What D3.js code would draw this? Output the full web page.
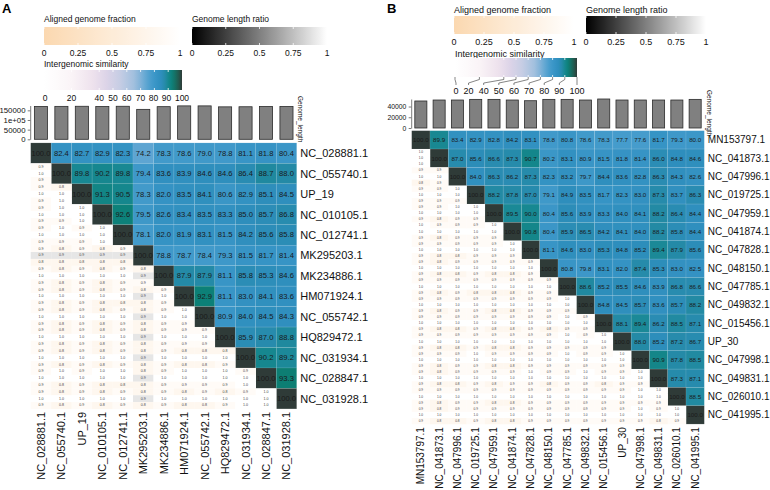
<!DOCTYPE html>
<html>
<head>
<meta charset="utf-8">
<script src="https://cdn.jsdelivr.net/npm/d3@7"></script>
<style>
  body { margin: 0; background: #fff; }
  svg { font-family: "Liberation Sans", Arial, Helvetica, sans-serif; }
</style>
</head>
<body>
<svg id="chart" width="770" height="490"></svg>
<script>
// ---------- data: panel A ----------
const genomesA = ["NC_028881.1", "NC_055740.1", "UP_19", "NC_010105.1", "NC_012741.1", "MK295203.1",
  "MK234886.1", "HM071924.1", "NC_055742.1", "HQ829472.1", "NC_031934.1", "NC_028847.1", "NC_031928.1"];
const lengthsA = [170000, 170500, 171000, 170000, 171000, 155000, 169000, 173000, 173000, 168000, 168500, 170000, 170000];
const lenTicksA = [0, 50000, 100000, 150000];
const lenTickLabelsA = ["0", "50000", "1e+05", "150000"];
// upper triangle, row i starts at column i
const simA = [
  [100.0, 82.4, 82.7, 82.9, 82.3, 74.2, 78.3, 78.6, 79.0, 78.8, 81.1, 81.8, 80.4],
  [100.0, 89.8, 90.2, 89.8, 79.4, 83.6, 83.9, 84.6, 84.6, 86.4, 88.7, 88.0],
  [100.0, 91.3, 90.5, 78.3, 82.0, 83.5, 84.1, 80.6, 82.9, 85.1, 84.5],
  [100.0, 92.6, 79.5, 82.6, 83.4, 83.5, 83.3, 85.0, 85.7, 86.8],
  [100.0, 78.1, 82.0, 81.9, 83.1, 81.5, 84.2, 85.6, 85.8],
  [100.0, 78.8, 78.7, 78.4, 79.3, 81.5, 81.7, 81.4],
  [100.0, 87.9, 87.9, 81.1, 85.8, 85.3, 84.6],
  [100.0, 92.9, 81.1, 83.0, 84.1, 83.6],
  [100.0, 80.9, 84.0, 84.5, 84.3],
  [100.0, 85.9, 87.0, 88.8],
  [100.0, 90.2, 89.2],
  [100.0, 93.3],
  [100.0]
];
// lower triangle, row i holds columns 0..i-1
const lowTopA = [
  [], [0.9], [0.9, 0.8], [0.9, 1.0, 1.0], [0.9, 1.0, 0.9, 1.0],
  [0.9, 0.8, 0.9, 0.8, 0.9],
  [0.9, 0.8, 0.9, 0.8, 0.9, 0.8],
  [0.9, 0.8, 0.9, 0.8, 0.9, 0.8, 0.9],
  [0.9, 0.8, 0.9, 0.8, 0.9, 0.8, 0.9, 1.0],
  [0.9, 0.8, 0.9, 0.8, 0.9, 0.8, 0.9, 0.9, 0.9],
  [0.9, 0.8, 0.9, 0.8, 0.9, 0.8, 0.9, 0.8, 0.8, 0.8],
  [0.9, 1.0, 0.9, 1.0, 1.0, 0.8, 0.9, 1.0, 1.0, 1.0, 0.9],
  [0.9, 0.8, 0.9, 0.8, 0.9, 0.8, 0.9, 0.8, 0.9, 0.8, 0.9, 1.0]
];
const lowMidA = [
  [], [1.0], [1.0, 1.0], [1.0, 1.0, 1.0], [1.0, 1.0, 1.0, 1.0],
  [0.9, 0.9, 0.9, 0.9, 0.9],
  [1.0, 1.0, 1.0, 1.0, 1.0, 0.9],
  [1.0, 1.0, 1.0, 1.0, 1.0, 0.9, 1.0],
  [1.0, 1.0, 1.0, 1.0, 1.0, 0.9, 1.0, 1.0],
  [1.0, 1.0, 1.0, 1.0, 1.0, 0.9, 1.0, 1.0, 1.0],
  [1.0, 1.0, 1.0, 1.0, 1.0, 0.9, 1.0, 1.0, 1.0, 1.0],
  [1.0, 1.0, 1.0, 1.0, 1.0, 0.9, 1.0, 1.0, 1.0, 1.0, 1.0],
  [1.0, 1.0, 1.0, 1.0, 1.0, 0.9, 1.0, 1.0, 1.0, 1.0, 1.0, 1.0]
];
const lowBotA = [
  [], [0.9], [0.9, 1.0], [0.9, 0.9, 1.0], [0.9, 0.9, 0.9, 1.0],
  [0.8, 0.8, 0.8, 0.8, 0.8],
  [0.9, 0.8, 0.9, 0.8, 0.9, 0.9],
  [0.9, 0.8, 0.9, 0.8, 0.8, 0.8, 0.9],
  [0.9, 0.8, 0.9, 0.8, 0.9, 0.8, 0.9, 0.9],
  [0.9, 0.8, 0.9, 0.8, 0.9, 0.8, 0.9, 0.9, 0.9],
  [0.9, 0.8, 0.9, 0.8, 0.9, 0.8, 0.9, 0.8, 0.8, 0.9],
  [0.9, 0.8, 0.9, 0.8, 0.8, 0.8, 0.9, 0.9, 0.9, 0.9, 1.0],
  [0.9, 0.8, 0.9, 0.8, 0.9, 0.8, 0.9, 0.8, 0.8, 0.9, 1.0, 1.0]
];

// ---------- data: panel B ----------
const genomesB = ["MN153797.1", "NC_041873.1", "NC_047996.1", "NC_019725.1", "NC_047959.1", "NC_041874.1",
  "NC_047828.1", "NC_048150.1", "NC_047785.1", "NC_049832.1", "NC_015456.1", "UP_30", "NC_047998.1",
  "NC_049831.1", "NC_026010.1", "NC_041995.1"];
const lengthsB = [50300, 52100, 52100, 53300, 53300, 52100, 50800, 53300, 53300, 52100, 54000, 52100, 52100, 52100, 52100, 53300];
const lenTicksB = [0, 20000, 40000];
const lenTickLabelsB = ["0", "20000", "40000"];
const simB = [
  [100.0, 89.9, 83.4, 82.9, 82.8, 84.2, 83.1, 78.8, 80.8, 78.6, 78.3, 77.7, 77.6, 81.7, 79.3, 80.0],
  [100.0, 87.0, 85.6, 86.6, 87.3, 90.7, 80.2, 83.1, 80.9, 81.5, 81.8, 81.4, 86.0, 84.8, 84.6],
  [100.0, 84.0, 86.3, 86.2, 87.3, 82.3, 83.2, 79.7, 84.4, 83.6, 82.8, 86.3, 84.3, 82.6],
  [100.0, 88.2, 87.8, 87.0, 79.1, 84.9, 83.5, 81.7, 82.3, 83.0, 87.3, 83.7, 86.3],
  [100.0, 89.5, 90.0, 80.4, 85.6, 83.9, 83.3, 84.0, 84.1, 88.2, 86.4, 84.4],
  [100.0, 90.8, 80.4, 85.9, 86.5, 84.2, 84.1, 84.0, 88.2, 85.8, 84.4],
  [100.0, 81.1, 84.6, 83.0, 85.3, 84.8, 85.2, 89.4, 87.9, 85.6],
  [100.0, 80.8, 79.8, 83.1, 82.0, 87.4, 85.3, 83.0, 82.5],
  [100.0, 88.6, 85.2, 85.5, 84.6, 83.9, 86.8, 86.6],
  [100.0, 84.8, 84.5, 85.7, 83.6, 85.7, 88.2],
  [100.0, 88.1, 89.4, 86.2, 88.5, 87.1],
  [100.0, 88.0, 85.2, 87.2, 86.7],
  [100.0, 90.9, 87.8, 88.5],
  [100.0, 87.3, 87.1],
  [100.0, 88.5],
  [100.0]
];
const lowTopB = [
  [], [1.0], [0.9, 0.9], [0.9, 0.9, 1.0], [0.9, 0.9, 1.0, 1.0],
  [1.0, 0.9, 0.9, 0.9, 1.0],
  [0.9, 0.9, 0.9, 0.9, 0.9, 1.0],
  [0.9, 0.8, 0.9, 0.9, 0.9, 0.9, 0.9],
  [0.9, 0.9, 0.9, 0.9, 0.9, 0.9, 0.9, 0.9],
  [0.9, 0.9, 0.9, 0.9, 0.9, 0.9, 0.9, 0.9, 1.0],
  [0.9, 0.9, 0.9, 0.9, 0.9, 0.9, 0.9, 0.9, 1.0, 0.9],
  [0.9, 0.9, 0.9, 0.9, 0.9, 0.9, 0.9, 0.9, 1.0, 0.9, 1.0],
  [0.9, 0.9, 0.9, 1.0, 0.9, 0.9, 0.9, 0.9, 1.0, 0.9, 0.9, 1.0],
  [0.9, 0.8, 0.9, 0.9, 0.9, 0.9, 1.0, 0.9, 0.9, 1.0, 0.9, 0.9, 1.0],
  [0.9, 0.9, 0.9, 0.9, 0.9, 0.9, 0.9, 0.9, 0.9, 0.9, 0.9, 0.9, 1.0, 1.0],
  [0.9, 0.8, 0.9, 0.9, 0.9, 0.9, 0.9, 0.9, 0.9, 0.9, 0.9, 0.9, 1.0, 0.9, 1.0]
];
const lowMidB = [
  [], [1.0], [1.0, 1.0], [1.0, 1.0, 1.0], [1.0, 1.0, 1.0, 1.0],
  [1.0, 1.0, 1.0, 1.0, 1.0],
  [1.0, 1.0, 1.0, 1.0, 1.0, 1.0],
  [1.0, 1.0, 1.0, 1.0, 1.0, 1.0, 1.0],
  [1.0, 1.0, 1.0, 1.0, 1.0, 1.0, 1.0, 1.0],
  [1.0, 1.0, 1.0, 1.0, 1.0, 1.0, 1.0, 1.0, 1.0],
  [1.0, 1.0, 1.0, 1.0, 1.0, 1.0, 1.0, 1.0, 1.0, 1.0],
  [1.0, 1.0, 1.0, 1.0, 1.0, 1.0, 1.0, 1.0, 1.0, 1.0, 1.0],
  [1.0, 1.0, 1.0, 1.0, 1.0, 1.0, 1.0, 1.0, 1.0, 1.0, 1.0, 1.0],
  [1.0, 1.0, 1.0, 1.0, 1.0, 1.0, 1.0, 1.0, 1.0, 1.0, 1.0, 1.0, 1.0],
  [1.0, 1.0, 1.0, 1.0, 1.0, 1.0, 1.0, 1.0, 1.0, 1.0, 1.0, 1.0, 1.0, 1.0],
  [1.0, 1.0, 1.0, 1.0, 1.0, 1.0, 1.0, 1.0, 1.0, 1.0, 1.0, 1.0, 1.0, 1.0, 1.0]
];
const lowBotB = [
  [], [1.0], [0.8, 0.9], [0.9, 0.9, 0.9], [0.9, 0.8, 0.9, 0.9],
  [0.9, 0.8, 0.9, 0.9, 0.9],
  [0.9, 0.8, 0.8, 0.9, 0.9, 0.9],
  [0.9, 0.8, 0.8, 0.9, 0.8, 0.8, 0.9],
  [0.9, 0.8, 0.9, 0.8, 0.8, 0.8, 0.9, 0.9],
  [0.9, 0.8, 0.9, 0.9, 0.8, 0.8, 0.9, 0.9, 0.9],
  [0.9, 0.8, 0.8, 0.9, 0.8, 0.8, 0.9, 0.8, 0.9, 0.9],
  [0.9, 0.8, 0.8, 0.9, 0.8, 0.8, 0.9, 0.9, 0.9, 0.9, 0.9],
  [0.9, 0.8, 0.9, 0.9, 0.8, 0.8, 0.9, 0.9, 0.9, 0.9, 0.9, 0.9],
  [0.9, 0.8, 0.8, 0.9, 0.8, 0.9, 0.9, 0.8, 0.9, 0.9, 0.8, 0.9, 0.9],
  [0.9, 0.8, 0.9, 0.9, 0.8, 0.8, 0.9, 0.9, 0.9, 0.9, 0.9, 0.9, 0.9, 0.9],
  [0.9, 0.8, 0.8, 0.9, 0.8, 0.8, 0.9, 0.9, 0.9, 0.9, 0.9, 0.9, 0.9, 0.8, 0.9]
];

// legend ticks (shared)
const fracTicks = [0, 0.25, 0.5, 0.75, 1];
const fracTickLabels = ["0", "0.25", "0.5", "0.75", "1"];
const simTicks = [0, 20, 40, 50, 60, 70, 80, 90, 100];

// ---------- colour scales ----------
const simStops = [0, 20, 35, 45, 55, 65, 70, 74, 78, 82, 85, 88, 90, 93, 97, 100];
const simColors = ["#ffffff", "#faf4f7", "#eee2ed", "#ddd4e8", "#c6cde4", "#a2c0de", "#80b2d8", "#5fa6d2",
  "#439bcb", "#3593c4", "#2e8ebc", "#248aa6", "#178891", "#0c8076", "#1f5f52", "#2f3b38"];
const simColor = d3.scaleLinear().domain(simStops).range(simColors).clamp(true);
const fracColor = d3.scaleLinear().domain([0, 1]).range(["#fbd8b0", "#ffffff"]);
const ratioColor = d3.scaleLinear().domain([0, 1]).range(["#000000", "#ffffff"]);

const svg = d3.select("#chart");
const f1 = d3.format(".1f");

// ---------- layout per panel ----------
const panels = [
  {
    letter: "A", letterX: 2, letterY: 13,
    genomes: genomesA, lengths: lengthsA, sim: simA, lowTop: lowTopA, lowMid: lowMidA, lowBot: lowBotA,
    lenTicks: lenTicksA, lenTickLabels: lenTickLabelsA, lenDomain: [0, 175000], lenRange: [139.3, 105.5],
    hx0: 30.7, hx1: 296.7, hy0: 142.9, hy1: 408.9,
    legFont: 8.5, leg1: { x: 44, y: 27, w: 136, h: 18, ty: 22, ly: 55.5 },
    leg2: { x: 192, y: 27, w: 135, h: 18, ty: 22, ly: 55.5 },
    leg3: { x: 44, y: 70, w: 138, h: 20, ty: 67, ly: 100.5, leader: false },
    axisFont: 7.8, rowFont: 11, cellFont: 7.6, lowFont: 3.6, barPad: 0.36,
    nameX: 298, nameY: 96
  },
  {
    letter: "B", letterX: 387, letterY: 13,
    genomes: genomesB, lengths: lengthsB, sim: simB, lowTop: lowTopB, lowMid: lowMidB, lowBot: lowBotB,
    lenTicks: lenTicksB, lenTickLabels: lenTickLabelsB, lenDomain: [0, 54000], lenRange: [128, 99],
    hx0: 411.7, hx1: 704.3, hy0: 130.7, hy1: 424.1,
    legFont: 9, leg1: { x: 454, y: 16, w: 120, h: 18, ty: 13, ly: 45 },
    leg2: { x: 586, y: 16, w: 120, h: 18, ty: 13, ly: 45 },
    leg3: { x: 455, y: 58, w: 122, h: 19, ty: 56.5, ly: 93.5, leader: true },
    axisFont: 6.8, rowFont: 10, cellFont: 6.2, lowFont: 3.2, barPad: 0.34,
    nameX: 707, nameY: 90
  }
];

let gradId = 0;
function gradientBar(g, L, color, domain) {
  const id = "grad" + (gradId++);
  const grad = svg.append("defs").append("linearGradient").attr("id", id);
  const n = 40;
  d3.range(n + 1).forEach(k => {
    const v = domain[0] + (domain[1] - domain[0]) * k / n;
    grad.append("stop").attr("offset", (k / n * 100) + "%").attr("stop-color", color(v));
  });
  g.append("rect").attr("x", L.x).attr("y", L.y).attr("width", L.w).attr("height", L.h)
    .attr("fill", "url(#" + id + ")");
}

function tickMarks(g, L, xs) {
  xs.forEach(x => {
    g.append("line").attr("x1", x).attr("x2", x).attr("y1", L.y).attr("y2", L.y + 2)
      .attr("stroke", "#fff").attr("stroke-width", 0.8);
    g.append("line").attr("x1", x).attr("x2", x).attr("y1", L.y + L.h - 2).attr("y2", L.y + L.h)
      .attr("stroke", "#fff").attr("stroke-width", 0.8);
  });
}

function dodge(xs, ws, pad, lo, hi) {
  const p = xs.slice();
  for (let it = 0; it < 300; it++) {
    for (let i = 0; i < p.length - 1; i++) {
      const need = (ws[i] + ws[i + 1]) / 2 + pad;
      const gap = p[i + 1] - p[i];
      if (gap < need) { const d = (need - gap) / 2; p[i] -= d; p[i + 1] += d; }
    }
    p[0] = Math.max(p[0], lo);
    p[p.length - 1] = Math.min(p[p.length - 1], hi);
  }
  return p;
}

function drawPanel(P) {
  const g = svg.append("g");
  const n = P.genomes.length;

  g.append("text").attr("x", P.letterX).attr("y", P.letterY)
    .attr("font-size", 13).attr("font-weight", "bold").text(P.letter);

  // --- legends ---
  const fx1 = d3.scaleLinear().domain([0, 1]).range([P.leg1.x, P.leg1.x + P.leg1.w]);
  const fx2 = d3.scaleLinear().domain([0, 1]).range([P.leg2.x, P.leg2.x + P.leg2.w]);
  [[P.leg1, fx1, fracColor, "Aligned genome fraction"], [P.leg2, fx2, ratioColor, "Genome length ratio"]]
    .forEach(([L, sc, col, title]) => {
      g.append("text").attr("x", L.x).attr("y", L.ty).attr("font-size", P.legFont).attr("fill", "#111").text(title);
      gradientBar(g, L, col, [0, 1]);
      tickMarks(g, L, fracTicks.map(sc));
      g.selectAll(null).data(fracTicks).join("text")
        .attr("x", d => sc(d)).attr("y", L.ly).attr("text-anchor", "middle")
        .attr("font-size", P.legFont).attr("fill", "#111")
        .text((d, i) => fracTickLabels[i]);
    });

  const L3 = P.leg3;
  const sx = d3.scaleLinear().domain([0, 100]).range([L3.x, L3.x + L3.w]);
  g.append("text").attr("x", L3.x).attr("y", L3.ty).attr("font-size", P.legFont).attr("fill", "#111")
    .text("Intergenomic similarity");
  gradientBar(g, L3, simColor, [0, 100]);
  tickMarks(g, L3, simTicks.slice(1, -1).map(sx));
  const labs = g.selectAll(null).data(simTicks).join("text")
    .attr("y", L3.ly).attr("text-anchor", "middle").attr("font-size", P.legFont).attr("fill", "#111")
    .text(d => d);
  const widths = labs.nodes().map(t => t.getComputedTextLength());
  const lx = dodge(simTicks.map(sx), widths, L3.leader ? 5.2 : 3.6, L3.x + 1, L3.x + L3.w);
  labs.attr("x", (d, i) => lx[i]);
  if (L3.leader) {
    const b = L3.y + L3.h;
    g.selectAll(null).data(simTicks).join("polyline")
      .attr("points", (d, i) => [[sx(d), b], [sx(d), b + 2.5], [lx[i], b + 6], [lx[i], b + 8]].join(" "))
      .attr("fill", "none").attr("stroke", "#333").attr("stroke-width", 0.6);
  }

  // --- scales for heatmap ---
  const x = d3.scaleBand().domain(P.genomes).range([P.hx0, P.hx1]);
  const y = d3.scaleBand().domain(P.genomes).range([P.hy0, P.hy1]);
  const bw = x.bandwidth(), bh = y.bandwidth();

  // --- genome length bars ---
  const xb = d3.scaleBand().domain(P.genomes).range([P.hx0, P.hx1]).paddingInner(P.barPad).paddingOuter(P.barPad / 2);
  const yb = d3.scaleLinear().domain(P.lenDomain).range(P.lenRange);
  g.selectAll(null).data(P.genomes).join("rect")
    .attr("x", d => xb(d)).attr("width", xb.bandwidth())
    .attr("y", (d, i) => yb(P.lengths[i])).attr("height", (d, i) => yb(0) - yb(P.lengths[i]))
    .attr("fill", "#808080").attr("stroke", "#2b2b2b").attr("stroke-width", 0.8);
  const ax = g.append("g").attr("transform", `translate(${P.hx0 - 0.5},0)`)
    .call(d3.axisLeft(yb).tickValues(P.lenTicks).tickFormat((d, i) => P.lenTickLabels[i]).tickSize(2.5).tickSizeOuter(0));
  ax.selectAll("text").attr("font-size", P.axisFont).attr("fill", "#111").attr("font-family", null).attr("dx", "0.1em");
  ax.selectAll("line,path").attr("stroke", "#222").attr("stroke-width", 0.6);
  g.append("text").attr("transform", `translate(${P.nameX},${P.nameY}) rotate(90)`)
    .attr("font-size", 6.5).attr("fill", "#111").text("Genome_length");

  // --- upper triangle (similarity) ---
  const upper = [];
  P.sim.forEach((row, i) => row.forEach((v, k) => upper.push({ r: i, c: i + k, v })));
  g.selectAll(null).data(upper).join("rect")
    .attr("x", d => x(P.genomes[d.c])).attr("y", d => y(P.genomes[d.r]))
    .attr("width", bw).attr("height", bh)
    .attr("fill", d => simColor(d.v))
    .attr("stroke", "rgba(255,255,255,0.18)").attr("stroke-width", 0.5);
  g.selectAll(null).data(upper).join("text")
    .attr("x", d => x(P.genomes[d.c]) + bw / 2).attr("y", d => y(P.genomes[d.r]) + bh / 2)
    .attr("text-anchor", "middle").attr("dominant-baseline", "central")
    .attr("font-size", P.cellFont).attr("fill", "#1a1a1a")
    .text(d => f1(d.v));

  // --- lower triangle (fractions + length ratio) ---
  const lower = [];
  P.lowTop.forEach((row, i) => row.forEach((v, j) => {
    lower.push({ r: i, c: j, k: 0, v, col: fracColor(v) });
    lower.push({ r: i, c: j, k: 1, v: P.lowMid[i][j], col: ratioColor(P.lowMid[i][j]) });
    lower.push({ r: i, c: j, k: 2, v: P.lowBot[i][j], col: fracColor(P.lowBot[i][j]) });
  }));
  const sh = bh / 3;
  g.selectAll(null).data(lower).join("rect")
    .attr("x", d => x(P.genomes[d.c])).attr("y", d => y(P.genomes[d.r]) + d.k * sh)
    .attr("width", bw + 0.2).attr("height", sh + 0.2).attr("fill", d => d.col);
  g.selectAll(null).data(lower).join("text")
    .attr("x", d => x(P.genomes[d.c]) + bw / 2).attr("y", d => y(P.genomes[d.r]) + (d.k + 0.5) * sh)
    .attr("text-anchor", "middle").attr("dominant-baseline", "central")
    .attr("font-size", P.lowFont).attr("fill", "#444")
    .text(d => f1(d.v));

  // --- labels ---
  g.selectAll(null).data(P.genomes).join("text")
    .attr("x", P.hx1 + 3.5).attr("y", d => y(d) + bh / 2)
    .attr("dominant-baseline", "central").attr("font-size", P.rowFont).attr("fill", "#111")
    .text(d => d);
  g.selectAll(null).data(P.genomes).join("text")
    .attr("transform", d => `translate(${x(d) + bw / 2},${P.hy1 + 3}) rotate(-90)`)
    .attr("text-anchor", "end").attr("dominant-baseline", "central")
    .attr("font-size", P.rowFont).attr("fill", "#111")
    .text(d => d);
}

panels.forEach(drawPanel);
</script>
</body>
</html>
